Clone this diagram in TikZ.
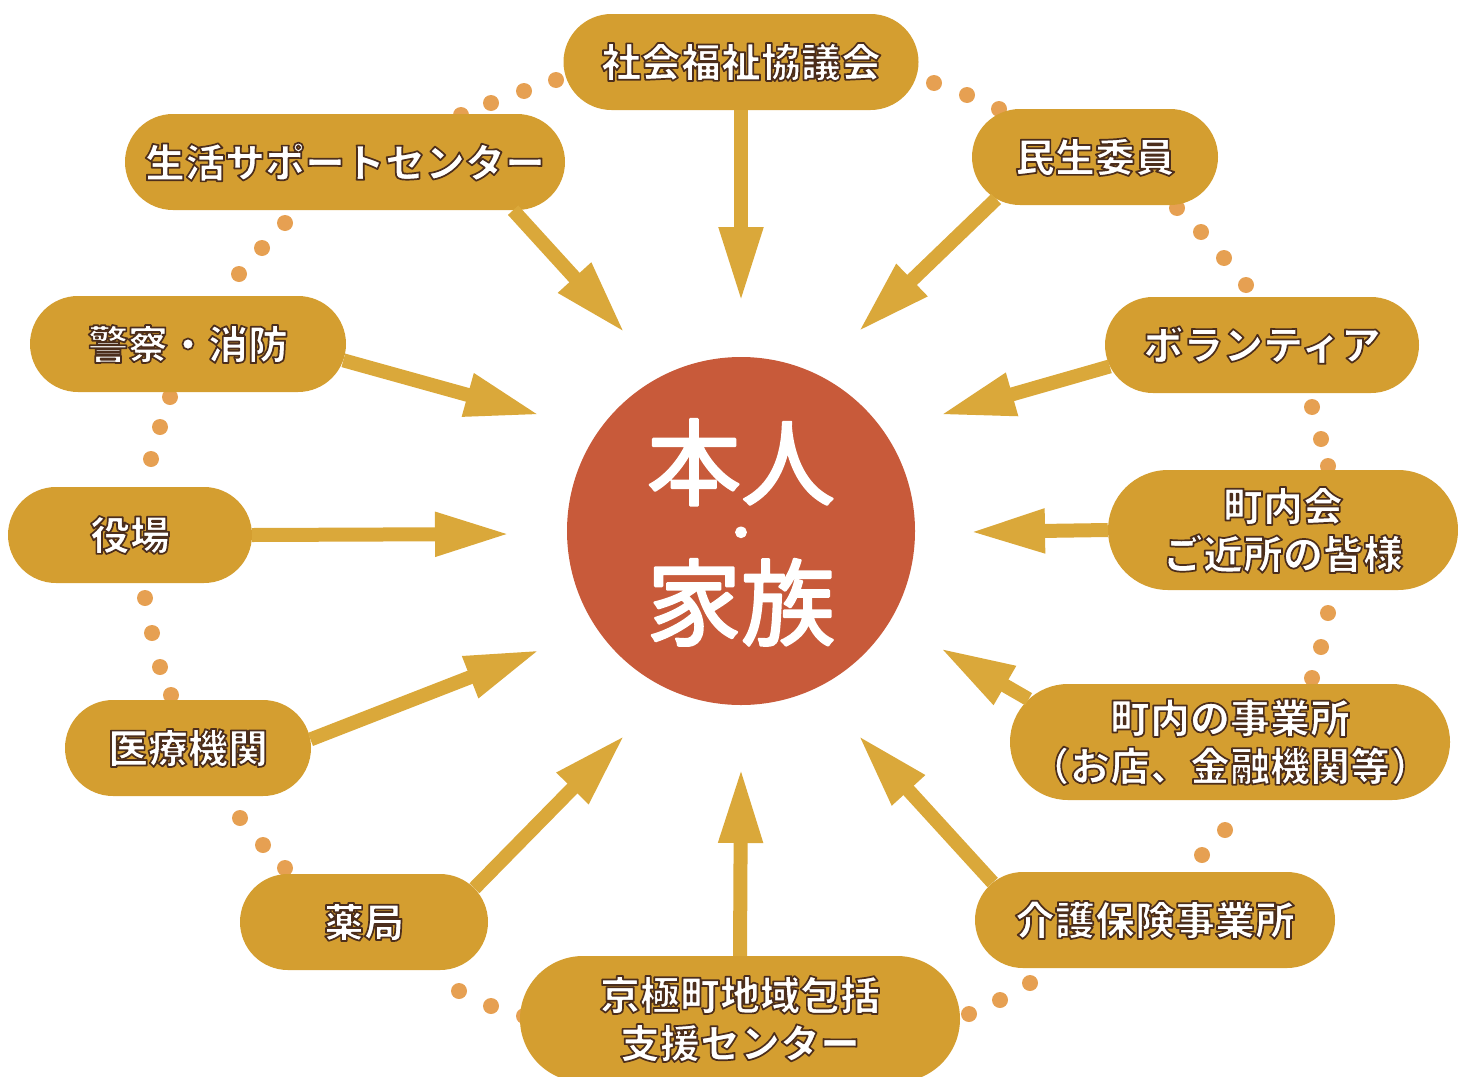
\documentclass[tikz,border=0pt]{standalone}
\usepackage{fontspec}
\usetikzlibrary{arrows.meta,shapes.misc}
\newfontfamily\jpfont{Noto Sans CJK JP}
\definecolor{gold}{RGB}{212,158,48}
\definecolor{arrowgold}{RGB}{218,168,58}
\definecolor{rust}{RGB}{200,90,58}
\definecolor{dotc}{RGB}{230,160,82}
% outlined text: fill white, stroke dark brown
\newcommand\olt[1]{\special{pdf:literal direct 2 Tr 1.7 w 1 j 0.30 0.18 0.11 RG}#1\special{pdf:literal direct 0 Tr}}
\newcommand\fat[1]{\special{pdf:literal direct 2 Tr 2.4 w 1 j 1 1 1 RG}#1\special{pdf:literal direct 0 Tr}}
\tikzset{
  pill/.style={rounded rectangle, fill=gold, text=white, inner sep=0pt,
    minimum height=96pt, align=center,
    font=\jpfont\bfseries\fontsize{40}{48}\selectfont},
  big/.style={anchor=base, inner sep=0pt, text=white,
    font=\jpfont\fontsize{94}{94}\selectfont},
  arr/.style={draw=arrowgold, line width=14pt,
    -{Triangle[length=75pt,width=41pt]}},
}
\begin{document}
\begin{tikzpicture}[x=1pt,y=-1pt]
\useasboundingbox (0,0) rectangle (1458,1076);
\def\dr{8};
%dots between the boxes
\foreach\x/\y in {461/115,491/103,524/91,556/80,934/83,967/95,999/109,
  1177/208,1201/232,1224/258,1246/285,1312/407,1321/439,1328/466,
  1328/613,1321/647,1312/678,1225/830,1202/855,
  1030/983,1000/1000,969/1014,459/991,491/1006,524/1016,
  285/868,263/845,240/818,171/695,160/667,152/633,145/598,
  151/459,160/427,170/397,239/274,262/248,285/223} {
  \fill[dotc] (\x,\y) circle (\dr);
}
%centre
\node[circle, fill=rust, minimum size=348pt, inner sep=0pt] (honnin) at (741,531) {};
\node[big] (hon) at (741,498) {\fat{本人}};
\node[big, font=\jpfont\fontsize{44}{44}\selectfont] (ten) at (741,549) {\fat{・}};
\node[big] (kazoku) at (741,638) {\fat{家族}};
%tips
\coordinate (t1) at (741,302);
\coordinate (t2) at (858,332);
\coordinate (t3) at (940,415);
\coordinate (t4) at (970,532);
\coordinate (t5) at (940,648);
\coordinate (t6) at (858,735);
\coordinate (t7) at (741,768);
\coordinate (t8) at (625,735);
\coordinate (t9) at (540,650);
\coordinate (t10) at (510,534);
\coordinate (t11) at (540,415);
\coordinate (t12) at (625,333);
%boxes
\node[pill, minimum width=355pt] (shakyo) at (741,62) {\olt{社会福祉協議会}};
\node[pill, minimum width=246pt] (minsei) at (1095,157) {\olt{民生委員}};
\node[pill, minimum width=314pt] (volun) at (1262,345) {\olt{ボランティア}};
\node[pill, minimum width=350pt, minimum height=120pt] (chonai) at (1283,530)
  {\olt{町内会}\\\olt{ご近所の皆様}};
\node[pill, minimum width=440pt, minimum height=116pt] (jigyo) at (1230,742)
  {\olt{町内の事業所}\\\olt{（お店、金融機関等）}};
\node[pill, minimum width=360pt] (kaigo) at (1155,920) {\olt{介護保険事業所}};
\node[pill, minimum width=440pt, minimum height=126pt] (houkatsu) at (740,1019)
  {\olt{京極町地域包括}\\\olt{支援センター}};
\node[pill, minimum width=248pt] (yakkyoku) at (364,922) {\olt{薬局}};
\node[pill, minimum width=246pt] (iryo) at (188,748) {\olt{医療機関}};
\node[pill, minimum width=244pt] (yakuba) at (130,535) {\olt{役場}};
\node[pill, minimum width=316pt] (keisatsu) at (188,344) {\olt{警察・消防}};
\node[pill, minimum width=440pt] (seikatsu) at (345,162) {\olt{生活サポートセンター}};
%arrows
\draw[arr] (shakyo.south) -- (t1);
\draw[arr] (minsei.203) -- (t2);
\draw[arr] (volun.188) -- (t3);
\draw[arr] (chonai.west) -- (t4);
\draw[arr] (jigyo.168) -- (t5);
\draw[arr] (kaigo.167) -- (t6);
\draw[arr] (houkatsu.north) -- (t7);
\draw[arr] (yakkyoku.17) -- (t8);
\draw[arr] (iryo.4) -- (t9);
\draw[arr] (yakuba.east) -- (t10);
\draw[arr] (keisatsu.-6) -- (t11);
\draw[arr] (seikatsu.-16) -- (t12);
\end{tikzpicture}
\end{document}
